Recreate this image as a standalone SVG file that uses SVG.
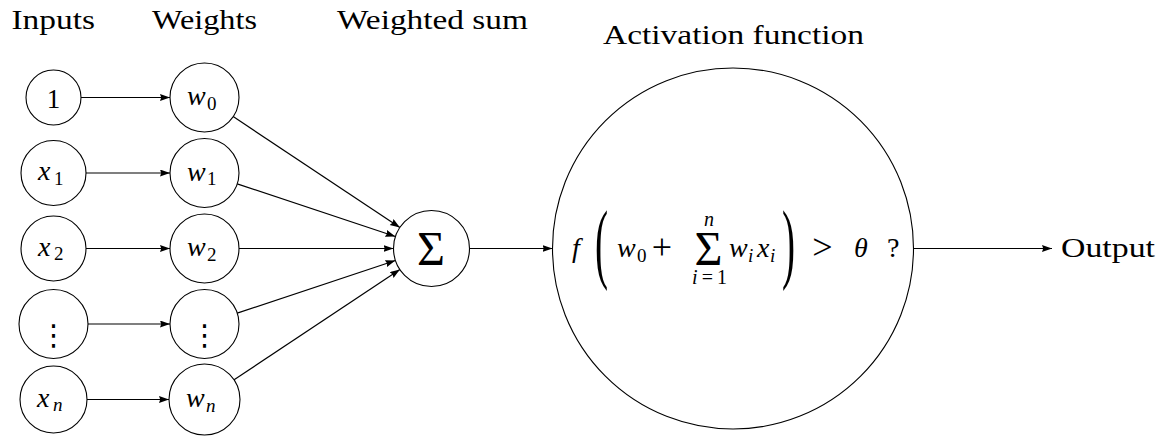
<svg xmlns="http://www.w3.org/2000/svg" width="1169" height="436" viewBox="0 0 1169 436">
<style>
  .node { fill: #ffffff; stroke: #000000; stroke-width: 1.1; }
  .edge { stroke: #000000; stroke-width: 1.2; fill: none; marker-end: url(#arrow); }
  text { font-family: "Liberation Serif", "DejaVu Serif", "Times New Roman", serif; fill: #000000; }
  .hdr { font-size: 27px; }
  .mi { font-style: italic; font-size: 28px; }
  .mr { font-size: 28px; }
  .sub { font-size: 19px; }
  .dots { font-family: "DejaVu Sans", sans-serif; font-size: 29px; text-anchor: middle; }
</style>
<defs>
  <marker id="arrow" markerUnits="userSpaceOnUse" markerWidth="11" markerHeight="8" refX="10" refY="3.5" orient="auto">
    <path d="M0,0 L10,3.5 L0,7 L1.2,3.5 z" fill="#000000"/>
  </marker>
</defs>

<g id="headers">
  <text class="hdr" x="11.5" y="29" textLength="83.5" lengthAdjust="spacingAndGlyphs">Inputs</text>
  <text class="hdr" x="152" y="29" textLength="105" lengthAdjust="spacingAndGlyphs">Weights</text>
  <text class="hdr" x="337" y="29" textLength="191" lengthAdjust="spacingAndGlyphs">Weighted sum</text>
  <text class="hdr" x="603" y="44" textLength="261" lengthAdjust="spacingAndGlyphs">Activation function</text>
</g>

<g id="connectors">
  <line class="edge" x1="81" y1="97.5" x2="170" y2="97.5"/>
  <line class="edge" x1="86" y1="173" x2="170" y2="173"/>
  <line class="edge" x1="86" y1="248.5" x2="170" y2="248.5"/>
  <line class="edge" x1="88" y1="324" x2="170" y2="324"/>
  <line class="edge" x1="87" y1="399.5" x2="169" y2="399.5"/>
  <line class="edge" x1="233.2" y1="116.6" x2="399.9" y2="227.5"/>
  <line class="edge" x1="237.2" y1="183.9" x2="395.4" y2="236.5"/>
  <line class="edge" x1="239" y1="248.5" x2="393.5" y2="248.5"/>
  <line class="edge" x1="237.2" y1="313.1" x2="395.4" y2="260.5"/>
  <line class="edge" x1="234.1" y1="379.8" x2="399.9" y2="269.5"/>
  <line class="edge" x1="469.5" y1="248.5" x2="552.5" y2="248.5"/>
  <line class="edge" x1="913.5" y1="248.5" x2="1052" y2="248.5"/>
</g>

<g id="in-1">
  <circle class="node" cx="53.5" cy="97.5" r="27.5"/>
  <text class="mr" x="53.5" y="107.5" text-anchor="middle" style="font-size:27px">1</text>
</g>
<g id="in-x1">
  <circle class="node" cx="53.5" cy="173" r="32.5"/>
  <text class="mi" x="38" y="180">x</text><text class="mr sub" x="54" y="184.5">1</text>
</g>
<g id="in-x2">
  <circle class="node" cx="53.5" cy="248.5" r="32.5"/>
  <text class="mi" x="38" y="255.5">x</text><text class="mr sub" x="54" y="260">2</text>
</g>
<g id="in-dots">
  <circle class="node" cx="53.5" cy="324" r="34.5"/>
  <text class="dots" x="53.5" y="345">⋮</text>
</g>
<g id="in-xn">
  <circle class="node" cx="53.5" cy="399.5" r="33.5"/>
  <text class="mi" x="37" y="406.5">x</text><text class="mi sub" x="53" y="411">n</text>
</g>

<g id="w-0">
  <circle class="node" cx="204.5" cy="97.5" r="34.5"/>
  <text class="mi" x="187" y="105">w</text><text class="mr sub" x="207" y="109.5">0</text>
</g>
<g id="w-1">
  <circle class="node" cx="204.5" cy="173" r="34.5"/>
  <text class="mi" x="187" y="180.5">w</text><text class="mr sub" x="207" y="185">1</text>
</g>
<g id="w-2">
  <circle class="node" cx="204.5" cy="248.5" r="34.5"/>
  <text class="mi" x="187" y="256">w</text><text class="mr sub" x="207" y="260.5">2</text>
</g>
<g id="w-dots">
  <circle class="node" cx="204.5" cy="324" r="34.5"/>
  <text class="dots" x="204.5" y="345">⋮</text>
</g>
<g id="w-n">
  <circle class="node" cx="204.5" cy="399.5" r="35.5"/>
  <text class="mi" x="186" y="407">w</text><text class="mi sub" x="206" y="411.5">n</text>
</g>

<g id="sum">
  <circle class="node" cx="431.5" cy="248.5" r="38"/>
  <text class="mr" x="417" y="265" style="font-size:48px">Σ</text>
</g>

<g id="activation">
  <circle class="node" cx="733" cy="248.5" r="180.5"/>
  <text class="mi" x="572" y="257">f</text>
  <text class="mr" transform="translate(595,271.5) scale(1.4,3.15)" style="font-size:28px">(</text>
  <text class="mi" x="617" y="257">w</text><text class="mr sub" x="637" y="261.5">0</text>
  <text class="mr" x="662" y="258.5" text-anchor="middle" style="font-size:36px">+</text>
  <text class="mr" x="694.4" y="265" style="font-size:48px">Σ</text>
  <text class="mi" x="709" y="226" text-anchor="middle" style="font-size:20px">n</text>
  <text class="mi" x="692" y="284" textLength="35" lengthAdjust="spacing" style="font-size:20px">i<tspan font-style="normal">=1</tspan></text>
  <text class="mi" x="729" y="257">w</text><text class="mi sub" x="748" y="261.5">i</text>
  <text class="mi" x="757" y="257">x</text><text class="mi sub" x="770" y="261.5">i</text>
  <text class="mr" transform="translate(782,271.5) scale(1.4,3.15)" style="font-size:28px">)</text>
  <text class="mr" x="822.5" y="258.5" text-anchor="middle" style="font-size:36px">&gt;</text>
  <text class="mi" x="854" y="257">θ</text>
  <text class="mr" x="887" y="257">?</text>
</g>

<g id="output">
  <text class="hdr" x="1061" y="257" textLength="94" lengthAdjust="spacingAndGlyphs">Output</text>
</g>
</svg>
